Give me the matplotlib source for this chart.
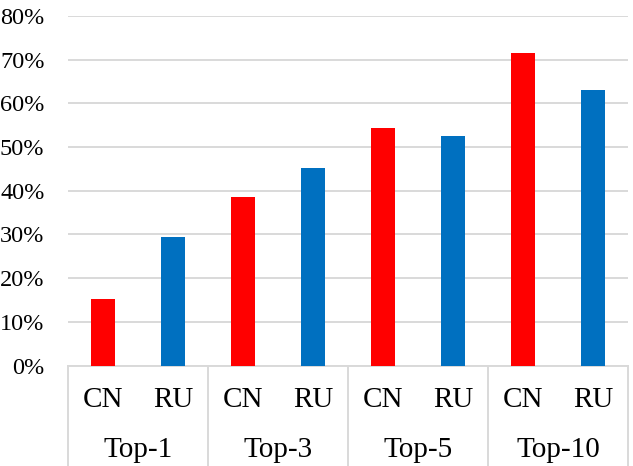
import numpy as np
import matplotlib.pyplot as plt
from matplotlib.ticker import PercentFormatter

# data: accuracy per top-k and language
groups = ['Top-1', 'Top-3', 'Top-5', 'Top-10']
langs = ['CN', 'RU']
cn_vals = [15.2, 38.6, 54.3, 71.5]
ru_vals = [29.4, 45.2, 52.5, 63.0]
yticks = [0, 10, 20, 30, 40, 50, 60, 70, 80]

plt.rcParams['font.family'] = ['Liberation Serif', 'DejaVu Serif']

fig = plt.figure(figsize=(6.33, 4.66), dpi=100)
ax = fig.add_axes([68/633, 100.5/466, 560/633, 349.5/466])

grid_c = '#D9D9D9'
n = len(groups)
x_cn = np.arange(n) * 2
x_ru = x_cn + 1
w = 0.33

ax.bar(x_cn, cn_vals, width=w, color='#FF0000', zorder=3)
ax.bar(x_ru, ru_vals, width=w, color='#0070C0', zorder=3)

ax.set_xlim(-0.5, 2*n - 0.5)
ax.set_ylim(0, 80)
ax.set_yticks(yticks)
ax.yaxis.set_major_formatter(PercentFormatter(decimals=0))
ax.tick_params(axis='y', length=0, pad=17, labelsize=17.5)
ax.set_xticks([])
ax.grid(axis='y', color=grid_c, linewidth=1.4, zorder=0)
ax.set_axisbelow(True)
for s in ['top', 'right', 'left']:
    ax.spines[s].set_visible(False)
ax.spines['bottom'].set_color(grid_c)
ax.spines['bottom'].set_linewidth(1.4)

# two-level category axis
tr = ax.get_xaxis_transform()
for i, g in enumerate(groups):
    ax.text(x_cn[i], -0.1187, langs[0], transform=tr, ha='center', va='baseline', fontsize=21)
    ax.text(x_ru[i], -0.1187, langs[1], transform=tr, ha='center', va='baseline', fontsize=21)
    ax.text(x_cn[i] + 0.5, -0.2618, g, transform=tr, ha='center', va='baseline', fontsize=21)
for b in np.arange(n + 1) * 2 - 0.5:
    ax.plot([b, b], [0, -0.3], transform=tr, color=grid_c, linewidth=1.4, clip_on=False)

fig.savefig('out.png', dpi=100)
